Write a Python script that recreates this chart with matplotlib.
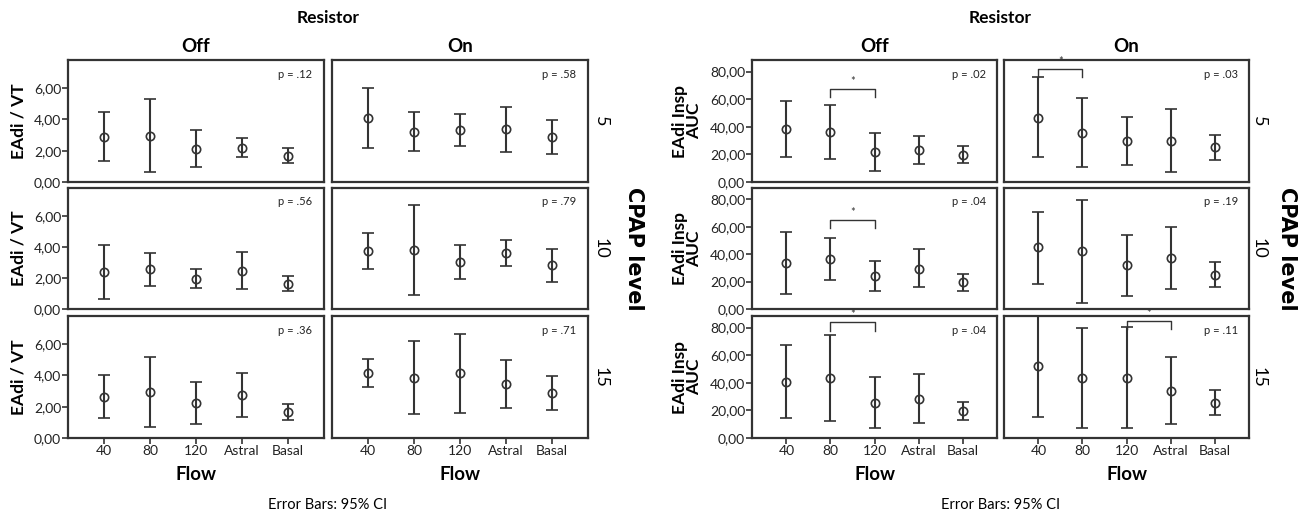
import matplotlib.pyplot as plt

# --- data (mean, lower CI, upper CI), rows = CPAP 5/10/15 ---
flows = ['40', '80', '120', 'Astral', 'Basal']
cpap_levels = ['5', '10', '15']
resistor = ['Off', 'On']

vt_mean_off = [[2.89, 2.94, 2.10, 2.19, 1.68],
               [2.38, 2.55, 1.95, 2.46, 1.63],
               [2.63, 2.95, 2.22, 2.72, 1.65]]
vt_low_off = [[1.36, 0.62, 0.96, 1.58, 1.19],
              [0.64, 1.46, 1.37, 1.29, 1.16],
              [1.26, 0.73, 0.88, 1.33, 1.15]]
vt_high_off = [[4.45, 5.28, 3.30, 2.79, 2.15],
               [4.12, 3.64, 2.55, 3.67, 2.10],
               [4.02, 5.19, 3.57, 4.15, 2.16]]
vt_mean_on = [[4.08, 3.21, 3.34, 3.40, 2.89],
              [3.73, 3.79, 3.04, 3.64, 2.83],
              [4.15, 3.85, 4.13, 3.46, 2.88]]
vt_low_on = [[2.15, 1.98, 2.32, 1.93, 1.81],
             [2.59, 0.88, 1.95, 2.77, 1.76],
             [3.27, 1.52, 1.60, 1.95, 1.78]]
vt_high_on = [[5.98, 4.45, 4.36, 4.81, 3.96],
              [4.87, 6.71, 4.14, 4.48, 3.90],
              [5.04, 6.22, 6.65, 4.98, 3.96]]
vt_p_off = ['.12', '.56', '.36']
vt_p_on = ['.58', '.79', '.71']

auc_mean_off = [[38.4, 36.3, 21.8, 23.2, 19.8],
                [33.3, 36.3, 23.9, 29.4, 19.5],
                [40.7, 43.4, 25.4, 28.5, 19.7]]
auc_low_off = [[17.9, 16.9, 7.7, 12.8, 13.5],
               [10.9, 21.0, 13.3, 15.8, 13.3],
               [14.2, 12.4, 7.3, 10.7, 13.4]]
auc_high_off = [[59.0, 55.8, 35.5, 33.6, 26.1],
                [56.0, 51.9, 34.8, 43.5, 25.9],
                [67.5, 74.6, 43.9, 46.6, 25.9]]
auc_mean_on = [[46.4, 35.8, 29.5, 30.0, 25.4],
               [45.0, 42.2, 31.9, 37.3, 25.2],
               [52.4, 43.2, 43.7, 34.2, 25.4]]
auc_low_on = [[17.9, 10.9, 12.1, 7.5, 16.2],
              [18.5, 4.7, 9.4, 14.3, 16.3],
              [14.9, 6.9, 7.3, 10.0, 16.4]]
auc_high_on = [[75.9, 60.7, 46.9, 52.9, 34.3],
               [71.1, 79.8, 54.3, 60.2, 34.6],
               [89.0, 79.5, 80.2, 58.5, 34.7]]
auc_p_off = ['.02', '.04', '.04']
auc_p_on = ['.03', '.19', '.11']

# significance brackets: (resistor col, cpap row, from flow, to flow, height)
auc_brackets = [(0, 0, 1, 2, 67.4), (1, 0, 0, 1, 81.9),
                (0, 1, 1, 2, 65.0), (0, 2, 1, 2, 83.7),
                (1, 2, 2, 3, 84.8)]

DARK = '#333333'
W, H = 1308, 516

plt.rcParams['font.family'] = ['Lato', 'DejaVu Sans']

fig = plt.figure(figsize=(W / 100, H / 100), dpi=100)


def px_axes(x0, y0, x1, y1):
    return fig.add_axes([x0 / W, 1 - y1 / H, (x1 - x0) / W, (y1 - y0) / H])


def fig_text(x, y, s, **kw):
    fig.text(x / W, 1 - y / H, s, **kw)


def draw_panel(col_x, rows_y, means, lows, highs, pvals, ymax, yticks,
               ylabel, ylabel_x, row_label_x, cpap_x, brackets=()):
    axes = {}
    for c, (x0, x1) in enumerate(col_x):
        for r, (y0, y1) in enumerate(rows_y):
            ax = px_axes(x0, y0, x1, y1)
            axes[(c, r)] = ax
            m = means[c][r]
            lo = [a - b for a, b in zip(m, lows[c][r])]
            hi = [b - a for a, b in zip(m, highs[c][r])]
            ax.errorbar(range(len(flows)), m, yerr=[lo, hi], fmt='o',
                        mfc='none', mec=DARK, mew=1.2, ms=6, color=DARK,
                        ecolor=DARK, elinewidth=1.5, capsize=4.5,
                        capthick=1.5, clip_on=True)
            ax.set_xlim(-0.78, len(flows) - 0.22)
            ax.set_ylim(0, ymax)
            for s in ax.spines.values():
                s.set_linewidth(1.6)
                s.set_color(DARK)
            ax.tick_params(direction='out', length=4, width=1.2, color=DARK,
                           labelsize=10, labelcolor='#222222', pad=1)
            ax.set_xticks(range(len(flows)))
            if r == len(rows_y) - 1:
                ax.set_xticklabels(flows)
            else:
                ax.tick_params(axis='x', length=0, labelbottom=False)
            if c == 0:
                ax.set_yticks(yticks)
                ax.set_yticklabels([f'{v:.2f}'.replace('.', ',') for v in yticks])
            else:
                ax.set_yticks([])
            ax.text(0.955, 0.885, f'p = {pvals[c][r]}', transform=ax.transAxes,
                    ha='right', va='center', fontsize=8, color='#222222')

    for c, r, i, j, yb in brackets:
        ax = axes[(c, r)]
        drop = 6
        ax.plot([i, i, j, j], [yb - drop, yb, yb, yb - drop], color=DARK,
                lw=1.0, clip_on=False)
        ax.text((i + j) / 2, yb + 1.5, '*', ha='center', va='bottom',
                fontsize=8, color=DARK)

    # column headers, row labels and outer titles
    mid_all = (col_x[0][0] + col_x[1][1]) / 2
    fig_text(mid_all, 18, 'Resistor', ha='center', va='center',
             fontsize=12.5, fontweight='bold')
    for name, (x0, x1) in zip(resistor, col_x):
        fig_text((x0 + x1) / 2, 47, name, ha='center', va='center',
                 fontsize=13.5, fontweight='bold')
        fig_text((x0 + x1) / 2, 475, 'Flow', ha='center', va='center',
                 fontsize=13.5, fontweight='bold')
    for lab, (y0, y1) in zip(cpap_levels, rows_y):
        fig_text(row_label_x, (y0 + y1) / 2, lab, ha='center', va='center',
                 fontsize=13, rotation=-90)
        fig_text(ylabel_x, (y0 + y1) / 2, ylabel, ha='center', va='center',
                 fontsize=12.5, fontweight='bold', rotation=90,
                 linespacing=0.8)
    fig_text(cpap_x, (rows_y[0][0] + rows_y[-1][1]) / 2, 'CPAP level',
             ha='center', va='center', fontsize=15, fontweight='black',
             rotation=-90, family=['DejaVu Sans'])
    fig_text(mid_all, 505, 'Error Bars: 95% CI', ha='center', va='center',
             fontsize=10.5)


rows_y = [(60, 182), (188, 309), (316, 438)]

draw_panel([(68, 324), (332, 588)], rows_y,
           [vt_mean_off, vt_mean_on], [vt_low_off, vt_low_on],
           [vt_high_off, vt_high_on], [vt_p_off, vt_p_on],
           7.8, [0, 2, 4, 6], 'EAdi / VT', 19, 601, 634)

draw_panel([(752, 997), (1004, 1249)], rows_y,
           [auc_mean_off, auc_mean_on], [auc_low_off, auc_low_on],
           [auc_high_off, auc_high_on], [auc_p_off, auc_p_on],
           88.4, [0, 20, 40, 60, 80], 'EAdi Insp\nAUC', 687, 1259, 1287,
           brackets=auc_brackets)

fig.savefig('out.png', dpi=100, facecolor='white')
